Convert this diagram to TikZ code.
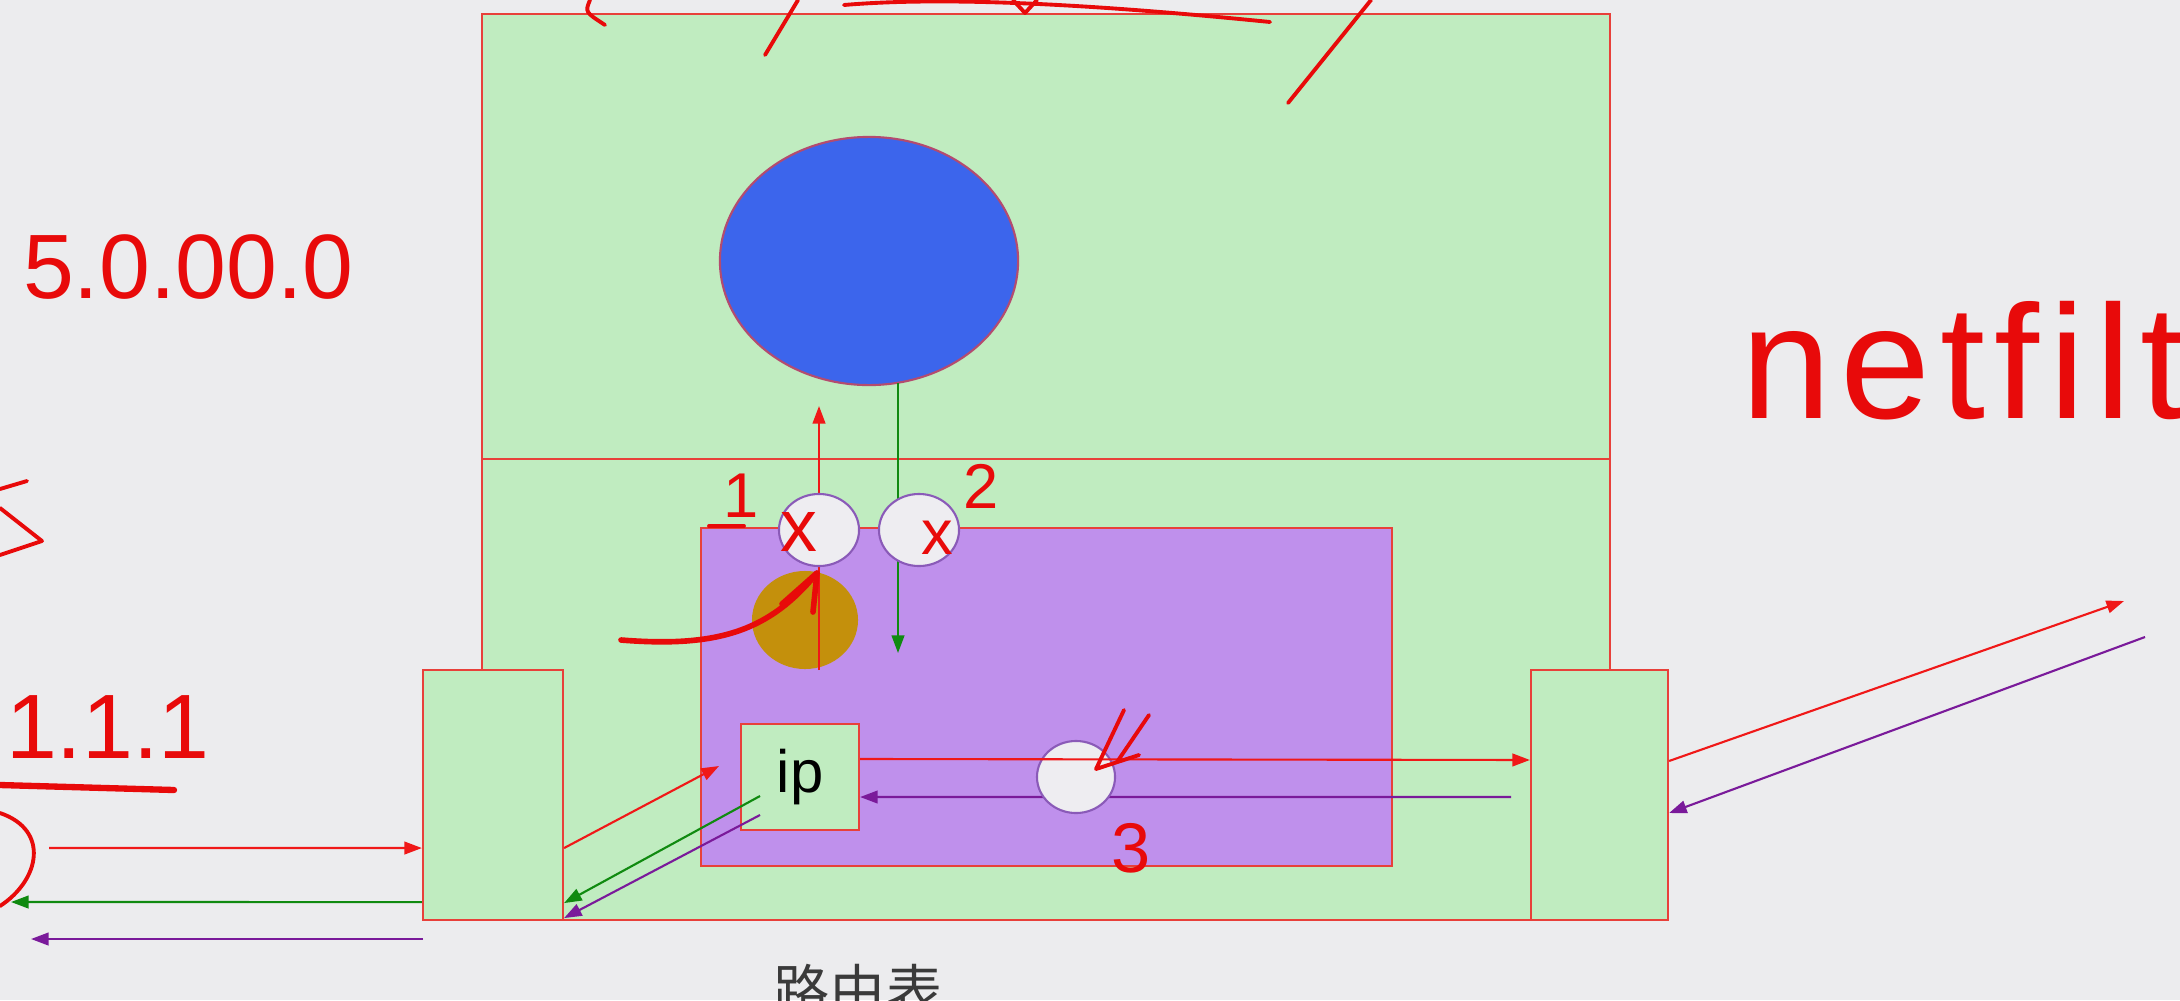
\documentclass[tikz,border=0pt]{standalone}
\usepackage{fontspec}
\setmainfont{Liberation Sans}
\newfontfamily\cjk{Noto Sans CJK SC}
\newfontfamily\handfont{Liberation Sans}
\newfontfamily\handwide[LetterSpace=6]{Liberation Sans}
\usetikzlibrary{arrows.meta,shapes.geometric}

\definecolor{bgGray}{HTML}{ECECEE}
\definecolor{layerGreen}{HTML}{C0ECC0}
\definecolor{edgeRed}{HTML}{E8403A}
\definecolor{procPurple}{HTML}{BF90EC}
\definecolor{sockBlue}{HTML}{3C65EC}
\definecolor{connGold}{HTML}{C4900C}
\definecolor{hookGray}{HTML}{EEEDF1}
\definecolor{hookEdge}{HTML}{8A5AB8}
\definecolor{flowRed}{HTML}{F01818}
\definecolor{flowGreen}{HTML}{108A10}
\definecolor{flowPurple}{HTML}{7A1A9A}
\definecolor{inkRed}{HTML}{E80A0A}
\definecolor{labelGray}{HTML}{3A3A3A}

\tikzset{
  layer/.style={draw=edgeRed,fill=layerGreen,inner sep=0pt},
  hookc/.style={ellipse,draw=hookEdge,fill=hookGray,inner sep=0pt,minimum width=0.8cm,minimum height=0.72cm},
  flow/.style={-{Triangle[length=5pt,width=3.6pt]}},
  scrib/.style={draw=inkRed,line width=1.1pt,line cap=round,line join=round},
  hand/.style={text=inkRed,inner sep=0pt,font=\handfont\fontsize{#1}{#1}\selectfont},
}

\begin{document}
\begin{tikzpicture}[x=0.01cm,y=-0.01cm,line width=0.6pt]
			\fill[bgGray] (0,0) rectangle (2180,1000);
			\useasboundingbox (0,0) rectangle (2180,1000);
			\node[layer,minimum width=11.28cm,minimum height=4.45cm] (user) at (1046,236.5) {};
			\node[layer,minimum width=11.28cm,minimum height=4.61cm] (kernel) at (1046,689.5) {};
			\node[layer,minimum width=1.40cm,minimum height=2.50cm] (ethL) at (493,795) {};
			\node[layer,minimum width=1.37cm,minimum height=2.50cm] (ethR) at (1599.5,795) {};
			\node[layer,fill=procPurple,minimum width=6.91cm,minimum height=3.38cm] (netf) at (1046.5,697) {};
			\node[ellipse,draw=edgeRed!70!sockBlue,fill=sockBlue,minimum width=2.98cm,minimum height=2.48cm] (app) at (869,261) {};
			\node[ellipse,fill=connGold,minimum width=1.06cm,minimum height=0.98cm] (conn) at (805,620) {};
			\coordinate (upS) at (819,670);
			\coordinate (upE) at (819,406);
			\coordinate (dnS) at (898,383);
			\coordinate (dnE) at (898,653);
			\draw[flow,flowRed] (upS)--(upE);
			\draw[flow,flowGreen] (dnS)--(dnE);
			\node[hookc] (hk1) at (819,530) {};
			\node[hookc] (hk2) at (919,530) {};
			\node[layer,minimum width=1.18cm,minimum height=1.06cm,font=\fontsize{17}{20}\selectfont] (ip) at (800,777) {ip};
			\coordinate (inR) at (1511,797);
			\draw[flow,flowPurple] (inR)--([yshift=-0.2cm]ip.east);
			\node[hookc,minimum width=0.78cm] (rt) at (1076,777) {};
			\draw[flow,flowRed] ([yshift=0.18cm]ip.east)--([yshift=0.35cm]ethR.west);
			\coordinate (wanO) at (2124,601);
			\coordinate (wanI) at (2145,637);
			\draw[flow,flowRed] ([yshift=0.34cm]ethR.east)--(wanO);
			\draw[flow,flowPurple] (wanI)--([yshift=-0.18cm]ethR.east);
			\coordinate (lanO) at (49,848);
			\coordinate (lanG) at (11,902);
			\coordinate (lanP) at (31,939);
			\coordinate (lanPs) at (423,939);
			\draw[flow,flowRed] (lanO)--([yshift=-0.53cm]ethL.west);
			\draw[flow,flowGreen] ([yshift=-1.07cm]ethL.west)--(lanG);
			\draw[flow,flowPurple] (lanPs)--(lanP);
			\coordinate (ipIn) at (719,766);
			\coordinate (ipG) at (760,796);
			\coordinate (ipP) at (760,815);
			\draw[flow,flowRed] ([yshift=-0.53cm]ethL.east)--(ipIn);
			\draw[flow,flowGreen] (ipG)--([yshift=-1.08cm]ethL.east);
			\draw[flow,flowPurple] (ipP)--([yshift=-1.23cm]ethL.east);
			\node[font=\cjk\fontsize{16}{18}\selectfont,text=labelGray] (rtab) at (858,990) {路由表};
			\node[hand=46,font=\handwide\fontsize{46}{46}\selectfont,anchor=base west] (nf) at (1740,418) {netfilt};
			\node[hand=26,anchor=base west] (addrA) at (22,298) {5.0.00.0};
			\node[hand=26,anchor=base west] (addrB) at (5,758) {1.1.1};
			\node[hand=18,anchor=base west] (n1) at (722,517) {1};
			\node[hand=18,anchor=base west] (n2) at (962,508) {2};
			\node[hand=20,anchor=base west] (n3) at (1110,872) {3};
			\node[hand=21] (x1) at (799,532) {x};
			\node[hand=18] (x2) at (937,538) {x};
			\draw[scrib] (0,489)--(27,481);
			\draw[scrib] (0,508)--(42,541)--(0,555);
			\draw[scrib,line width=1.8pt] (0,785)--(174,790);
			\draw[scrib] (0,813) .. controls (50,830) and (40,880) .. (0,906);
			\draw[scrib,line width=1.6pt] (621,640) .. controls (720,648) and (770,630) .. (817,573);
			\draw[scrib,line width=1.6pt] (782,604)--(817,573)--(813,612);
			\draw[scrib] (709,526)--(744,526);
			\draw[scrib] (1124,710)--(1096,769)--(1139,755);
			\draw[scrib] (1149,715)--(1117,762);
			\draw[scrib] (590,0) .. controls (585,12) .. (605,25);
			\draw[scrib] (798,0)--(765,55);
			\draw[scrib] (844,5) .. controls (950,-4) and (1100,5) .. (1270,22);
			\draw[scrib] (1013,0)--(1025,13)--(1037,0);
			\draw[scrib] (1371,0)--(1288,103);
		\end{tikzpicture}
\end{document}
